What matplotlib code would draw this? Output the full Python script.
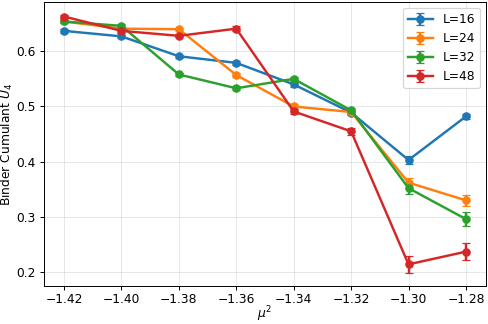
import numpy as np
import matplotlib
matplotlib.use("Agg")
import matplotlib.pyplot as plt

# --- DATA ---
mu2 = [-1.42, -1.40, -1.38, -1.36, -1.34, -1.32, -1.30, -1.28]

u4_L16 = [0.637, 0.627, 0.591, 0.579, 0.540, 0.489, 0.403, 0.482]
u4_L24 = [0.654, 0.641, 0.640, 0.557, 0.500, 0.490, 0.362, 0.330]
u4_L32 = [0.654, 0.646, 0.558, 0.533, 0.550, 0.493, 0.352, 0.296]
u4_L48 = [0.663, 0.637, 0.628, 0.641, 0.491, 0.455, 0.214, 0.237]

err_L16 = [0.003, 0.003, 0.003, 0.003, 0.004, 0.004, 0.008, 0.004]
err_L24 = [0.003, 0.003, 0.003, 0.004, 0.004, 0.004, 0.009, 0.010]
err_L32 = [0.003, 0.003, 0.003, 0.004, 0.004, 0.005, 0.010, 0.012]
err_L48 = [0.003, 0.003, 0.003, 0.004, 0.005, 0.006, 0.016, 0.016]

labels = ["L=16", "L=24", "L=32", "L=48"]
series = [u4_L16, u4_L24, u4_L32, u4_L48]
errors = [err_L16, err_L24, err_L32, err_L48]

# --- PLOT ---
DPI = 88
fig, ax = plt.subplots(figsize=(488 / DPI, 324 / DPI), dpi=DPI)

for lab, y, e in zip(labels, series, errors):
    ax.errorbar(mu2, y, yerr=e, marker="o", markersize=6, capsize=3,
                linewidth=2, label=lab)

ax.set_xlabel(r"$\mu^2$", labelpad=-2)
ax.set_ylabel(r"Binder Cumulant $U_4$", labelpad=1)
ax.set_xticks(mu2)
ax.tick_params(axis="x", pad=2.5)
ax.grid(True, alpha=0.3)
ax.legend(loc="upper right")

fig.subplots_adjust(left=0.09, right=0.996, top=0.994, bottom=0.117)
fig.savefig("out.png", dpi=DPI)
